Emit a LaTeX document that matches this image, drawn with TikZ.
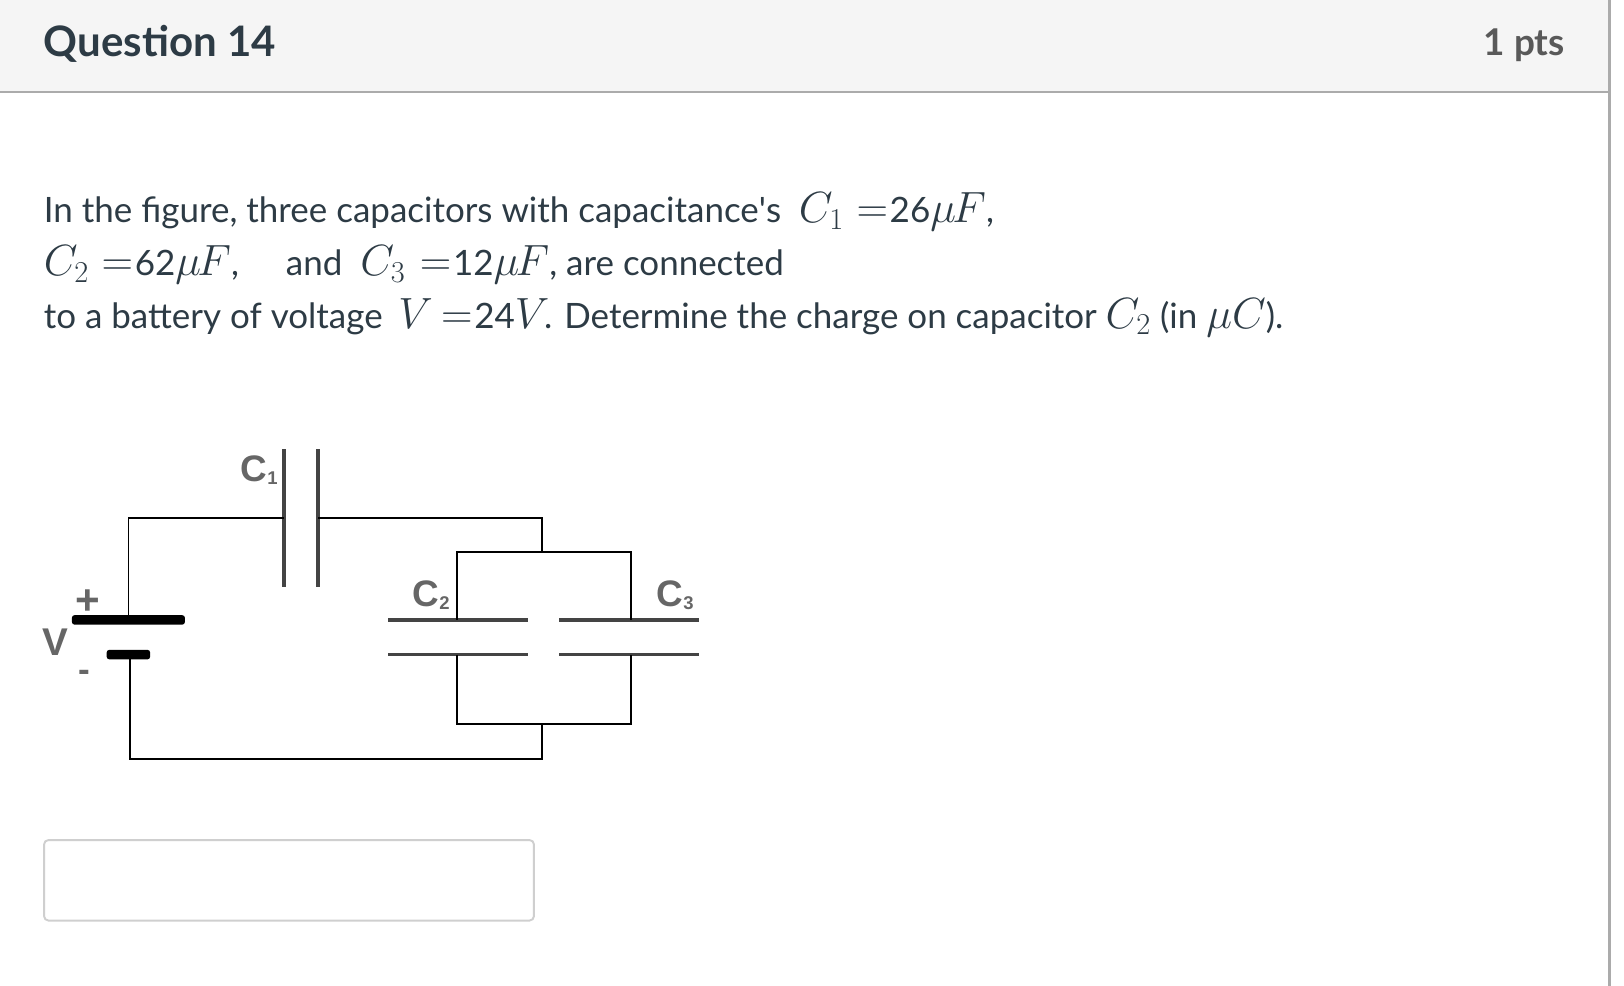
\documentclass[tikz,border=0pt]{standalone}
\usepackage{fontspec}
\setmainfont{Lato}
\newfontfamily\labelfont{Liberation Sans}
\usetikzlibrary{positioning}
\definecolor{inktext}{HTML}{2D3B45}
\definecolor{headbg}{HTML}{F5F5F5}
\definecolor{rulegray}{HTML}{ABABAB}
\definecolor{boxgray}{HTML}{CFCFCF}
\definecolor{labelgray}{HTML}{666666}
\definecolor{plategray}{HTML}{444444}
\newcommand{\capname}[1]{{\fontsize{21}{21}\selectfont\bfseries C}\raisebox{-1.5pt}{\fontsize{10.5}{11}\selectfont\bfseries #1}}
\newcommand{\mth}[1]{{\fontsize{23}{24}\selectfont$#1$}}
\tikzset{
    bodyline/.style={anchor=base west, inner sep=0pt, text=inktext, font=\fontsize{19.9}{24}\selectfont},
    circuitlabel/.style={inner sep=0pt, text=labelgray, font=\labelfont},
    wire/.style={line width=1pt, black},
    vplate/.style={fill=plategray, inner sep=0pt, minimum width=0.07cm, minimum height=2.78cm},
    hplate/.style={fill=plategray, inner sep=0pt, minimum width=2.8cm, minimum height=0.07cm},
    batplate/.style={fill=black, inner sep=0pt, minimum height=0.19cm, rounded corners=1.5pt}
}
\begin{document}
\begin{tikzpicture}[x=0.02cm, y=-0.02cm]
    \useasboundingbox (0,0) rectangle (1624,986);
    % page frame
    \fill[headbg] (0,0) rectangle (1609.5,92);
    \draw[rulegray, line width=1.2pt] (0,92) -- (1609.5,92);
    \draw[rulegray, line width=1.5pt] (1609.5,0) -- (1609.5,986);
    \node[anchor=base west, inner sep=0pt, text=inktext, font=\fontsize{23.9}{28}\selectfont\bfseries](Title) at (43.5,57) {Question 14};
    \node[anchor=base east, inner sep=0pt, text=black!65, font=\fontsize{21}{24}\selectfont\bfseries](Points) at (1565,56) {1 pts};
    % question text
    \node[bodyline](LineOne) at (43.5,222.7) {In the figure, three capacitors with capacitance\textquotesingle s\ \ \mth{C_1}\hspace{7pt}\mth{=}\hspace{1pt}26\mth{\mu\mkern-1.5mu F},};
    \node[bodyline](LineTwo) at (43.5,275.5) {\mth{C_2}\hspace{7pt}\mth{=}\hspace{1pt}62\mth{\mu\mkern-1.5mu F},\quad\ \hspace{1.7pt}and\ \ \mth{C_3}\hspace{8pt}\mth{=}\hspace{1pt}12\mth{\mu\mkern-1.5mu F}, are connected};
    \node[bodyline](LineThree) at (43.5,328.3) {to a battery of voltage\hspace{9pt}\mth{V}\hspace{4.7pt}\mth{=}\hspace{1pt}24\mth{V}\hspace{-3pt}. Determine the charge on capacitor \mth{C_2} (in \mth{\mu C}).};
    % circuit
    \node[vplate](CapOneLeft) at (283.8,518) {};
    \node[vplate](CapOneRight) at (318,518) {};
    \node[hplate](CapTwoTop) at (458.3,619.9) {};
    \node[hplate](CapTwoBottom) at (458.3,654.6) {};
    \node[hplate](CapThreeTop) at (629.2,619.9) {};
    \node[hplate](CapThreeBottom) at (629.2,654.6) {};
    \node[batplate, minimum width=2.26cm](BatPlus) at (128.4,619.9) {};
    \node[batplate, minimum width=0.87cm](BatMinus) at (128.4,654.6) {};
    \coordinate (MinusPin) at (130,654.6);
    \coordinate (UpperSplit) at (542.2,552);
    \coordinate (LowerSplit) at (542.2,724);
    \coordinate (CapTwoUp) at (456.7,619.9);
    \coordinate (CapTwoDown) at (456.7,654.6);
    \coordinate (CapThreeUp) at (631.3,619.9);
    \coordinate (CapThreeDown) at (631.3,654.6);
    \draw[wire] (BatPlus.center) |- (CapOneLeft.center);
    \draw[wire] (CapOneRight.center) -| (UpperSplit);
    \draw[wire] (CapTwoUp) |- (UpperSplit) -| (CapThreeUp);
    \draw[wire] (CapTwoDown) |- (LowerSplit) -| (CapThreeDown);
    \draw[wire] (MinusPin) |- (LowerSplit |- 0,758.7) -- (LowerSplit);
    \node[circuitlabel, anchor=east](LabelOne) at (278,470) {\capname{1}};
    \node[circuitlabel, anchor=east](LabelTwo) at (450,595) {\capname{2}};
    \node[circuitlabel, anchor=east](LabelThree) at (694,595) {\capname{3}};
    \node[circuitlabel, font=\labelfont\fontsize{22}{22}\selectfont\bfseries](LabelV) at (55,642) {V};
    \node[circuitlabel, font=\labelfont\fontsize{24}{24}\selectfont\bfseries](LabelPlus) at (88,602) {+};
    \node[circuitlabel, font=\labelfont\fontsize{20}{20}\selectfont\bfseries](LabelMinus) at (84,676) {-};
    % answer box
    \node[draw=boxgray, line width=1.1pt, fill=white, rounded corners=2.5pt, inner sep=0pt, minimum width=9.8cm, minimum height=1.61cm](AnswerBox) at (289,880.3) {};
\end{tikzpicture}
\end{document}
